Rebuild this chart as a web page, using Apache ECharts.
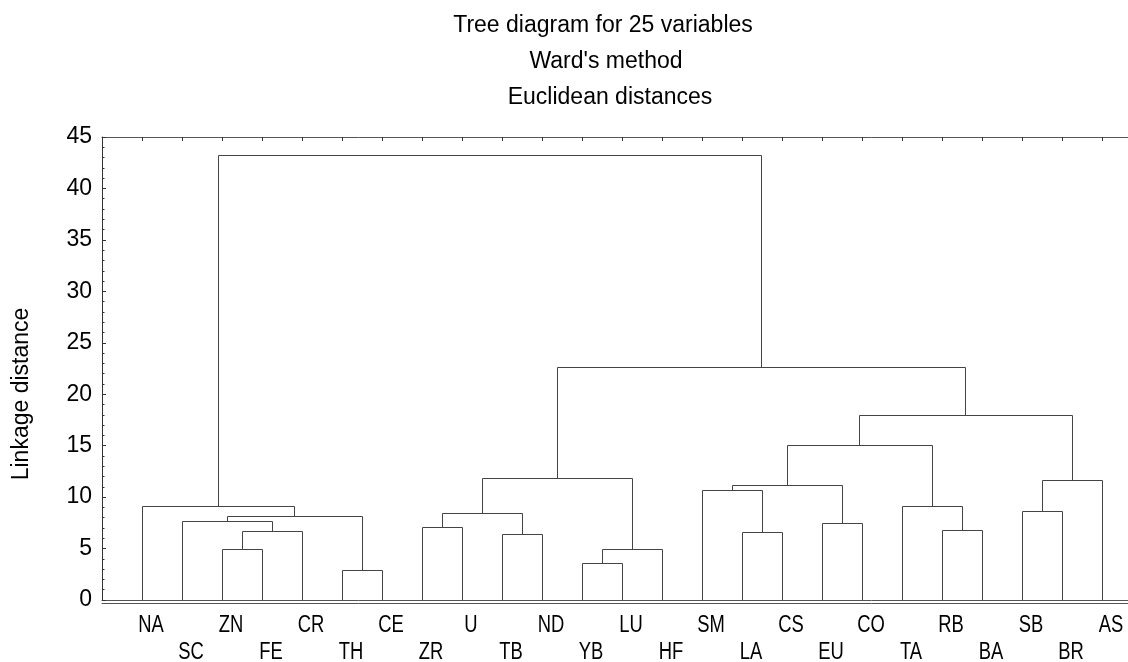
<!DOCTYPE html>
<html>
<head>
<meta charset="utf-8">
<script src="https://cdn.jsdelivr.net/npm/echarts@6/dist/echarts.min.js"></script>
<style>html,body{margin:0;padding:0;background:#fff}#c{width:1128px;height:662px}</style>
</head>
<body>
<div id="c"></div>
<script>
// Leaf order (left to right)
const leaves = ['NA','SC','ZN','FE','CR','TH','CE','ZR','U','TB','ND','YB','LU','HF','SM','LA','CS','EU','CO','TA','RB','BA','SB','BR','AS'];
// Merges: '#k' refers to the cluster formed by merge k
const mergeLeft   = ['TH','YB','#1','ZN','TB','LA','#3','RB','ZR','EU','SC','#10','#8','SB','TA','NA','SM','#16','#13','#12','#17','#20','#19','#15'];
const mergeRight  = ['CE','LU','HF','FE','ND','CS','CR','BA','U','CO','#6','#0','#4','BR','#7','#11','#5','#9','AS','#2','#14','#18','#21','#22'];
const mergeHeight = [2.87,3.53,4.89,4.92,6.35,6.60,6.67,6.74,7.03,7.48,7.65,8.13,8.40,8.65,9.04,9.08,10.64,11.08,11.61,11.80,15.02,17.94,22.58,43.2];
const titleLines = ['Tree diagram for 25 variables', "Ward's method", 'Euclidean distances'];
const yAxisName = 'Linkage distance';

const clusterX = [];
function nodePos(ref) {
  if (ref.charAt(0) === '#') { const k = +ref.slice(1); return [clusterX[k], mergeHeight[k]]; }
  return [leaves.indexOf(ref) + 1, 0];
}
const segData = [];
for (let k = 0; k < mergeHeight.length; k++) {
  const a = nodePos(mergeLeft[k]), b = nodePos(mergeRight[k]);
  clusterX[k] = (a[0] + b[0]) / 2;
  segData.push([a[0], a[1], b[0], b[1], mergeHeight[k]]);
}
const leafData = leaves.map(function (n, i) { return [i + 1, 0]; });

const chart = echarts.init(document.getElementById('c'), null, {renderer: 'canvas'});
const FONT = 'Liberation Sans, Arial, sans-serif';
const XMAX = 25.65;
function crisp(v) { return Math.round(v - 0.5) + 0.5; }

chart.setOption({
  backgroundColor: '#fff',
  animation: false,
  grid: {left: 102, right: 0, top: 137, bottom: 62, outerBoundsMode: 'none', containLabel: false},
  xAxis: [
    {
      type: 'value', min: 0, max: XMAX, interval: 1, position: 'bottom',
      axisLine: {show: true, onZero: false, lineStyle: {color: '#555', width: 1}},
      axisTick: {show: false}, splitLine: {show: false}, axisLabel: {show: false}
    },
    {
      type: 'value', min: 0, max: XMAX, interval: 1, position: 'bottom', offset: 3,
      axisLine: {show: true, onZero: false, lineStyle: {color: '#555', width: 1}},
      axisTick: {show: false}, axisLabel: {show: false}, splitLine: {show: false}
    },
    {
      type: 'value', min: 0, max: XMAX, interval: 1, position: 'top',
      axisLine: {show: true, onZero: false, lineStyle: {color: '#555', width: 1}},
      axisTick: {show: true, inside: true, length: 4, lineStyle: {color: '#333'}},
      axisLabel: {show: false}, splitLine: {show: false}
    }
  ],
  yAxis: {
    type: 'value', min: 0, max: 45, interval: 5,
    axisLine: {show: true, lineStyle: {color: '#333', width: 1}},
    axisTick: {show: true, inside: true, length: 4, lineStyle: {color: '#333'}},
    minorTick: {show: true, splitNumber: 5, length: 2.5, lineStyle: {color: '#333'}},
    splitLine: {show: false},
    axisLabel: {margin: 10, color: '#000', fontFamily: FONT, fontSize: 23}
  },
  graphic: [
    {type: 'text', x: 603, y: 26, style: {text: titleLines[0], font: '23px ' + FONT, fill: '#000', align: 'center', verticalAlign: 'middle'}},
    {type: 'text', x: 606, y: 62, style: {text: titleLines[1], font: '23px ' + FONT, fill: '#000', align: 'center', verticalAlign: 'middle'}},
    {type: 'text', x: 610, y: 98, style: {text: titleLines[2], font: '23px ' + FONT, fill: '#000', align: 'center', verticalAlign: 'middle'}},
    {type: 'text', x: 22, y: 394, rotation: Math.PI / 2,
     style: {text: yAxisName, font: '23px ' + FONT, fill: '#000', align: 'center', verticalAlign: 'middle'}}
  ],
  series: [{
    type: 'custom',
    xAxisIndex: 0,
    coordinateSystem: 'cartesian2d',
    clip: false,
    encode: {x: [0, 2], y: [1, 3, 4]},
    data: segData,
    renderItem: function (params, api) {
      const xl = api.value(0), yl = api.value(1), xr = api.value(2), yr = api.value(3), h = api.value(4);
      const p1 = api.coord([xl, yl]), p2 = api.coord([xl, h]), p3 = api.coord([xr, h]), p4 = api.coord([xr, yr]);
      return {
        type: 'polyline',
        shape: {points: [[crisp(p1[0]), crisp(p1[1])], [crisp(p2[0]), crisp(p2[1])], [crisp(p3[0]), crisp(p3[1])], [crisp(p4[0]), crisp(p4[1])]]},
        style: {stroke: '#444', lineWidth: 1, fill: null}
      };
    }
  }, {
    type: 'custom',
    xAxisIndex: 0,
    coordinateSystem: 'cartesian2d',
    clip: false,
    encode: {x: 0, y: 1},
    data: leafData,
    renderItem: function (params, api) {
      const p = api.coord([api.value(0), api.value(1)]);
      const i = params.dataIndex;
      return {
        type: 'text',
        x: p[0] + 9,
        y: p[1] + (i % 2 === 0 ? 25.5 : 52.5),
        scaleX: 0.8,
        style: {text: leaves[i], font: '23px ' + FONT, fill: '#000', align: 'center', verticalAlign: 'middle'}
      };
    }
  }]
});
</script>
</body>
</html>
